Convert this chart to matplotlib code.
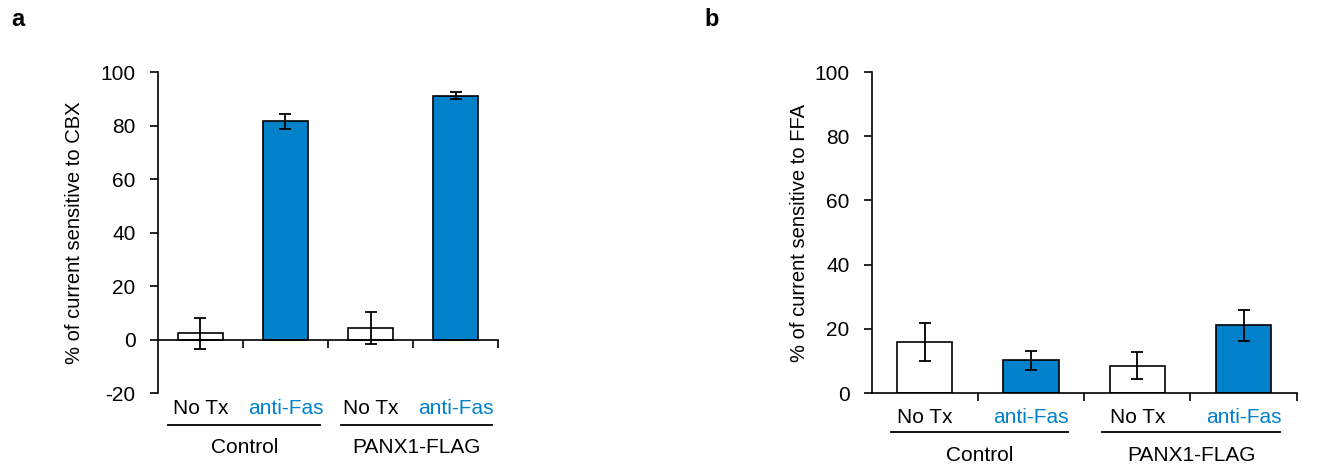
import numpy as np
import matplotlib
matplotlib.use('Agg')
import matplotlib.pyplot as plt
from matplotlib.lines import Line2D

plt.rcParams['font.family'] = ['Liberation Sans', 'DejaVu Sans']
plt.rcParams['axes.unicode_minus'] = False

blue = '#0081C9'

conds = ['No Tx', 'anti-Fas', 'No Tx', 'anti-Fas']
groups = ['Control', 'PANX1-FLAG']
cbx_mean = [2.4, 81.6, 4.4, 91.2]
cbx_err = [5.8, 2.7, 6.0, 1.4]
ffa_mean = [16.0, 10.2, 8.5, 21.1]
ffa_err = [5.9, 3.0, 4.2, 4.8]

fig = plt.figure(figsize=(13.41, 4.68), dpi=100)
axa = fig.add_axes([0.1178, 0.160, 0.2536, 0.686])
axb = fig.add_axes([0.650, 0.160, 0.317, 0.686])

def panel(ax, means, errs, ylim, ylabel, lab_y, line_y, grp_y, lines):
    x = np.arange(len(means))
    cols = ['white', blue, 'white', blue]
    ax.bar(x, means, width=0.52, color=cols, edgecolor='black', linewidth=1.2, zorder=2)
    ax.errorbar(x, means, yerr=errs, fmt='none', ecolor='black', elinewidth=1.3,
                capsize=4.5, capthick=1.3, zorder=3)
    ax.set_xlim(-0.5, 3.5)
    ax.set_ylim(*ylim)
    ax.set_yticks(np.arange(ylim[0], 101, 20))
    ax.spines['top'].set_visible(False)
    ax.spines['right'].set_visible(False)
    ax.spines['bottom'].set_position(('data', 0))
    for s in ['left', 'bottom']:
        ax.spines[s].set_linewidth(1.2)
    ax.set_xticks([0.5, 1.5, 2.5, 3.5])
    ax.set_xticklabels([])
    ax.tick_params(axis='x', direction='out', length=6, width=1.2)
    ax.tick_params(axis='y', direction='out', length=6, width=1.2, labelsize=15, pad=10)
    ax.set_ylabel(ylabel, fontsize=14.5)
    tr = ax.get_xaxis_transform()
    for i, c in enumerate(conds):
        ax.text(i, lab_y, c, transform=tr, ha='center', va='center', fontsize=15,
                color='black' if i % 2 == 0 else blue)
    for (x0, x1), g in zip(lines, groups):
        ax.add_line(Line2D([x0, x1], [line_y, line_y], transform=tr, color='black',
                           linewidth=1.3, clip_on=False))
        ax.text((x0 + x1) / 2, grp_y, g, transform=tr, ha='center', va='center', fontsize=15)

panel(axa, cbx_mean, cbx_err, (-20, 100), '% of current sensitive to CBX',
      -0.047, -0.100, -0.168, [(-0.38, 1.41), (1.65, 3.43)])
panel(axb, ffa_mean, ffa_err, (0, 100), '% of current sensitive to FFA',
      -0.075, -0.121, -0.193, [(-0.32, 1.35), (1.67, 3.34)])
axa.yaxis.set_label_coords(-0.217, 0.5)
axb.yaxis.set_label_coords(-0.148, 0.5)

fig.text(18 / 1341, 1 - 20 / 468, 'a', fontsize=17, fontweight='bold', va='center', ha='center')
fig.text(712 / 1341, 1 - 20 / 468, 'b', fontsize=17, fontweight='bold', va='center', ha='center')

fig.savefig('out.png', dpi=100)
